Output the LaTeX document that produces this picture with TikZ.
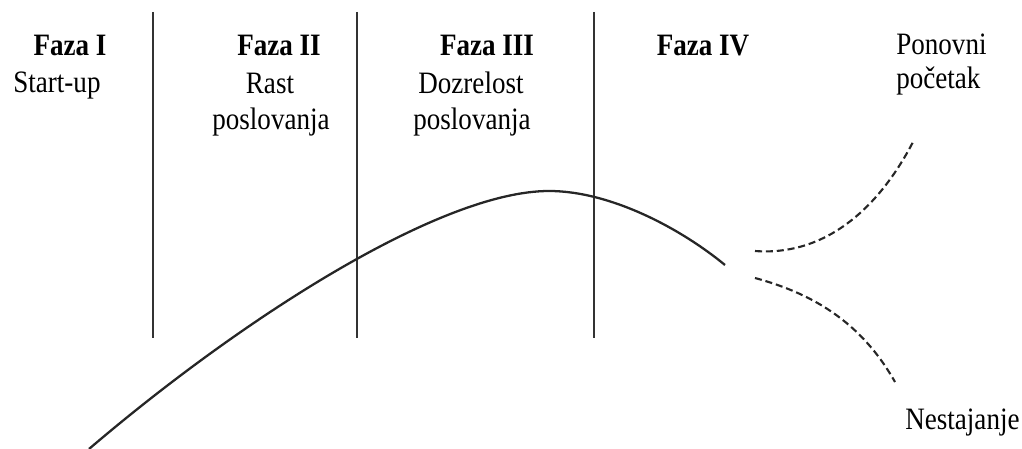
\documentclass[tikz,border=0pt]{standalone}
\usepackage{fontspec}
\setmainfont{Liberation Serif}
\usepackage{xcolor}
\usepackage{graphicx}
\usetikzlibrary{positioning}
% the scanned labels are a little taller than wide
\newcommand{\tallt}[1]{\scalebox{1}[1.15]{#1}}

\begin{document}
\begin{tikzpicture}[x=0.02cm, y=-0.02cm, font=\fontsize{15.4}{18.5}\selectfont,
  divider/.style={line width=0.9pt, black!80},
  lifecurve/.style={line width=1.3pt, black!85},
  branch/.style={line width=1.2pt, black!85, dash pattern=on 4pt off 2.2pt},
  phase/.style={font=\fontsize{15.4}{18.5}\selectfont\bfseries, anchor=base, inner sep=0pt},
  sub/.style={anchor=base, inner sep=0pt}]
\useasboundingbox (0,0) rectangle (1022,449);
% phase dividers (x in px of the 1022x449 frame)
\foreach \nm/\xv in {dI/153,dII/357,dIII/594}{
  \coordinate (\nm top) at (\xv,12);
  \coordinate (\nm bot) at (\xv,338);
  \draw[divider] (\nm top) -- (\nm bot);
}
% phase headings
\foreach \nm/\xv/\lab in {fI/70/Faza I,fII/279/Faza II,fIII/487/Faza III,fIV/703/Faza IV}{
  \node[phase] (\nm) at (\xv,56) {\tallt{\lab}};
}
% phase descriptions
\node[sub,anchor=base west] (startup) at (13,93) {\tallt{Start-up}};
\node[sub] (rast) at (270,94) {\tallt{Rast}};
\node[sub] (poslII) at (271,130) {\tallt{poslovanja}};
\node[sub] (dozrelost) at (471,94) {\tallt{Dozrelost}};
\node[sub] (poslIII) at (472,130) {\tallt{poslovanja}};
% outcomes
\node[sub,anchor=base west] (ponovni) at (896,55) {\tallt{Ponovni}};
\node[sub,anchor=base west] (pocetak) at (896,89) {\tallt{početak}};
\node[sub,anchor=base west] (nestajanje) at (905,430) {\tallt{Nestajanje}};
% life cycle curve
\coordinate (cstart) at (89,449);
\coordinate (cpeak) at (549,191);
\coordinate (cend) at (725,265);
\draw[lifecurve] (cstart) .. controls (240,320) and (440,191) .. (cpeak)
  .. controls (610,191) and (680,228) .. (cend);
% branches after phase IV
\coordinate (upA) at (755,251);
\coordinate (upB) at (913,142);
\coordinate (dnA) at (755,278);
\coordinate (dnB) at (895,382);
\draw[branch] (upA) .. controls (820,256) and (875,215) .. (upB);
\draw[branch] (dnA) .. controls (810,293) and (860,320) .. (dnB);
\end{tikzpicture}
\end{document}
